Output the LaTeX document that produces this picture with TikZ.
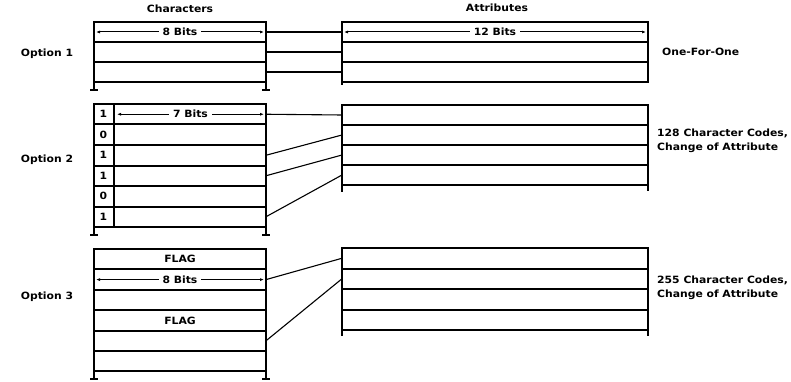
\documentclass[tikz,border=0pt]{standalone}
\usepackage{fontspec}
\newfontfamily\heavyfont{DejaVu Sans Bold}[FakeStretch=1.08]
\usetikzlibrary{arrows.meta,calc}
\tikzset{
  cell/.style={draw, line width=2pt, outer sep=0pt, inner sep=0pt, anchor=north west},
  frame/.style={line width=2pt},
  link/.style={line width=1.1pt},
  dim/.style={line width=1pt, {Latex[length=4pt,width=3pt]}-{Latex[length=4pt,width=3pt]}},
  txt/.style={font=\fontsize{10}{14.5}\selectfont\heavyfont, inner sep=1pt},
  dimlabel/.style={txt, fill=white, inner xsep=4pt},
}
\begin{document}
\begin{tikzpicture}[x=1pt, y=-1pt]
\useasboundingbox (0,0) rectangle (791,382);

% column headings
\node[txt] (hchar) at (180,9) {Characters};
\node[txt] (hattr) at (497,8) {Attributes};

% ---------- Option 1 ----------
\node[txt] (opt1) at (47,54) {Option 1};
\foreach \i/\y in {1/22,2/42,3/62}{
  \node[cell, minimum width=172pt, minimum height=20pt] (oa-c\i) at (94,\y) {};
  \node[cell, minimum width=306pt, minimum height=20pt] (oa-a\i) at (342,\y) {};
}
\draw[frame] (oa-c3.south west) -- ++(0,8) ++(-4,0) -- ++(8,0);
\draw[frame] (oa-c3.south east) -- ++(0,8) ++(-4,0) -- ++(8,0);
\draw[frame] (oa-a3.south west) -- ++(0,3);
\draw[dim] ([xshift=2pt]oa-c1.west) -- ([xshift=-2pt]oa-c1.east)
  node[dimlabel, pos=0.5] (oa-bits) {8 Bits};
\draw[dim] ([xshift=2pt]oa-a1.west) -- ([xshift=-2pt]oa-a1.east)
  node[dimlabel, pos=0.5] (oa-abits) {12 Bits};
\foreach \i in {1,2,3}{
  \draw[link] (oa-c\i.east) -- (oa-a\i.west);
}
\node[txt, anchor=west] (oa-note) at (661,52) {One-For-One};

% ---------- Option 2 ----------
\node[txt] (opt2) at (47,160) {Option 2};
\foreach \i/\b in {1/1,2/0,3/1,4/1,5/0,6/1}{
  \node[cell, minimum width=172pt, minimum height=20.5pt] (ob-c\i) at (94,{104+(\i-1)*20.5}) {};
  \node[txt] (ob-d\i) at (103.5,{114.25+(\i-1)*20.5}) {\b};
}
\draw[frame] ($(ob-c1.north west)+(20,0)$) -- ($(ob-c6.south west)+(20,0)$);
\foreach \i in {1,2,3,4}{
  \node[cell, minimum width=306pt, minimum height=20pt] (ob-a\i) at (342,{105+(\i-1)*20}) {};
}
\draw[frame] (ob-c6.south west) -- ++(0,8) ++(-4,0) -- ++(8,0);
\draw[frame] (ob-c6.south east) -- ++(0,8) ++(-4,0) -- ++(8,0);
\draw[frame] (ob-a4.south west) -- ++(0,7);
\draw[frame] (ob-a4.south east) -- ++(0,6);
\draw[dim] ([xshift=23pt]ob-c1.west) -- ([xshift=-2pt]ob-c1.east)
  node[dimlabel, pos=0.5] (ob-bits) {7 Bits};
\draw[link] (ob-c1.east) -- (ob-a1.west);
\draw[link] (ob-c3.east) -- (ob-a2.west);
\draw[link] (ob-c4.east) -- (ob-a3.west);
\draw[link] (ob-c6.east) -- (ob-a4.west);
\node[txt, anchor=west, align=left] (ob-note) at (656,141)
  {128 Character Codes,\\Change of Attribute};

% ---------- Option 3 ----------
\node[txt] (opt3) at (47,297) {Option 3};
\foreach \i in {1,...,6}{
  \node[cell, minimum width=172pt, minimum height=20.4pt] (oc-c\i) at (94,{249+(\i-1)*20.4}) {};
}
\node[txt] (oc-f1) at (oc-c1.center) {FLAG};
\node[txt] (oc-f2) at (oc-c4.center) {FLAG};
\foreach \i in {1,2,3,4}{
  \node[cell, minimum width=306pt, minimum height=20.5pt] (oc-a\i) at (342,{248+(\i-1)*20.5}) {};
}
\draw[frame] (oc-c6.south west) -- ++(0,8) ++(-4,0) -- ++(8,0);
\draw[frame] (oc-c6.south east) -- ++(0,8) ++(-4,0) -- ++(8,0);
\draw[frame] (oc-a4.south west) -- ++(0,6);
\draw[frame] (oc-a4.south east) -- ++(0,6);
\draw[dim] ([xshift=2pt]oc-c2.west) -- ([xshift=-2pt]oc-c2.east)
  node[dimlabel, pos=0.5] (oc-bits) {8 Bits};
\draw[link] (oc-c2.east) -- (oc-a1.west);
\draw[link] (oc-c5.east) -- (oc-a2.west);
\node[txt, anchor=west, align=left] (oc-note) at (656,288)
  {255 Character Codes,\\Change of Attribute};
\end{tikzpicture}
\end{document}
